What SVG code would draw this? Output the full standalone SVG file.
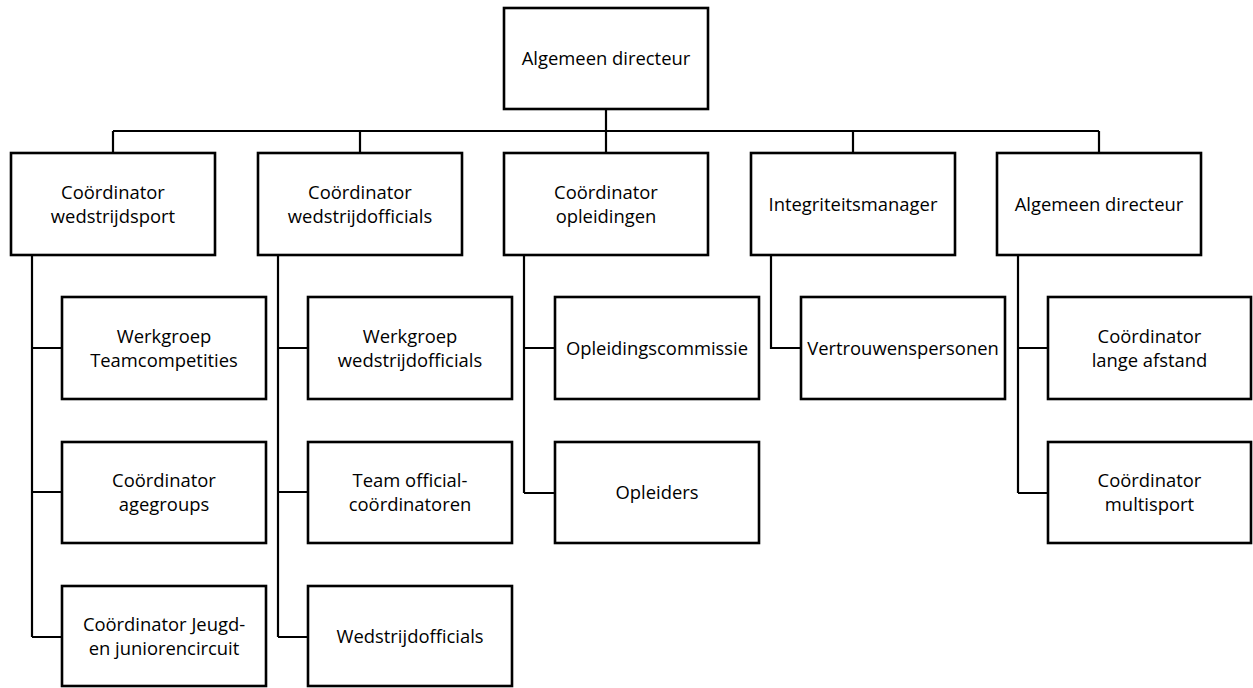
<svg xmlns="http://www.w3.org/2000/svg" width="1253" height="688" viewBox="0 0 1253 688">
<style>
.box{fill:#fff;stroke:#000;stroke-width:2.6}
.t{font-family:"Open Sans","Noto Sans","Liberation Sans",sans-serif;font-size:18.4px;fill:#000;text-anchor:middle}
.c{fill:none;stroke:#000;stroke-width:2.2}
</style>
<rect width="1253" height="688" fill="#fff"/>
<g id="connectors">
<path class="c" d="M606 109V131M113 131H1099M113 131V153M360 131V153M606 131V153M853 131V153M1099 131V153"/>
<path class="c" d="M32 255V637M32 348H62M32 492H62M32 637H62"/>
<path class="c" d="M278 255V637M278 348H308M278 492H308M278 637H308"/>
<path class="c" d="M524 255V493M524 348H555M524 493H555"/>
<path class="c" d="M771 255V348H801"/>
<path class="c" d="M1018 255V493M1018 348H1048M1018 493H1048"/>
</g>
<g id="n-top"><rect class="box" x="504" y="8" width="204" height="101"/><text class="t" x="606" y="65">Algemeen directeur</text></g>
<g id="n-wedstrijdsport"><rect class="box" x="11" y="153" width="204" height="102"/><text class="t" x="113" y="198.5">Coördinator</text><text class="t" x="113" y="222.5">wedstrijdsport</text></g>
<g id="n-wedstrijdofficials"><rect class="box" x="258" y="153" width="204" height="102"/><text class="t" x="360" y="198.5">Coördinator</text><text class="t" x="360" y="222.5">wedstrijdofficials</text></g>
<g id="n-opleidingen"><rect class="box" x="504" y="153" width="204" height="102"/><text class="t" x="606" y="198.5">Coördinator</text><text class="t" x="606" y="222.5">opleidingen</text></g>
<g id="n-integriteit"><rect class="box" x="751" y="153" width="204" height="102"/><text class="t" x="853" y="210.5">Integriteitsmanager</text></g>
<g id="n-algemeen2"><rect class="box" x="997" y="153" width="204" height="102"/><text class="t" x="1099" y="210.5">Algemeen directeur</text></g>

<g id="n-teamcomp"><rect class="box" x="62" y="297" width="204" height="102"/><text class="t" x="164" y="342.5">Werkgroep</text><text class="t" x="164" y="366.5">Teamcompetities</text></g>
<g id="n-agegroups"><rect class="box" x="62" y="442" width="204" height="101"/><text class="t" x="164" y="486.5">Coördinator</text><text class="t" x="164" y="510.5">agegroups</text></g>
<g id="n-jeugd"><rect class="box" x="62" y="586" width="204" height="100"/><text class="t" x="164" y="630.5">Coördinator Jeugd-</text><text class="t" x="164" y="654.5">en juniorencircuit</text></g>

<g id="n-wgofficials"><rect class="box" x="308" y="297" width="204" height="102"/><text class="t" x="410" y="342.5">Werkgroep</text><text class="t" x="410" y="366.5">wedstrijdofficials</text></g>
<g id="n-teamofficial"><rect class="box" x="308" y="442" width="204" height="101"/><text class="t" x="410" y="486.5">Team official-</text><text class="t" x="410" y="510.5">coördinatoren</text></g>
<g id="n-officials"><rect class="box" x="308" y="586" width="204" height="100"/><text class="t" x="410" y="642.5">Wedstrijdofficials</text></g>

<g id="n-oplcommissie"><rect class="box" x="555" y="297" width="204" height="102"/><text class="t" x="657" y="354.5">Opleidingscommissie</text></g>
<g id="n-opleiders"><rect class="box" x="555" y="442" width="204" height="101"/><text class="t" x="657" y="498.5">Opleiders</text></g>

<g id="n-vertrouwen"><rect class="box" x="801" y="297" width="204" height="102"/><text class="t" x="903" y="354.5">Vertrouwenspersonen</text></g>

<g id="n-lange"><rect class="box" x="1048" y="297" width="203" height="102"/><text class="t" x="1149.5" y="342.5">Coördinator</text><text class="t" x="1149.5" y="366.5">lange afstand</text></g>
<g id="n-multisport"><rect class="box" x="1048" y="442" width="203" height="101"/><text class="t" x="1149.5" y="486.5">Coördinator</text><text class="t" x="1149.5" y="510.5">multisport</text></g>
</svg>
